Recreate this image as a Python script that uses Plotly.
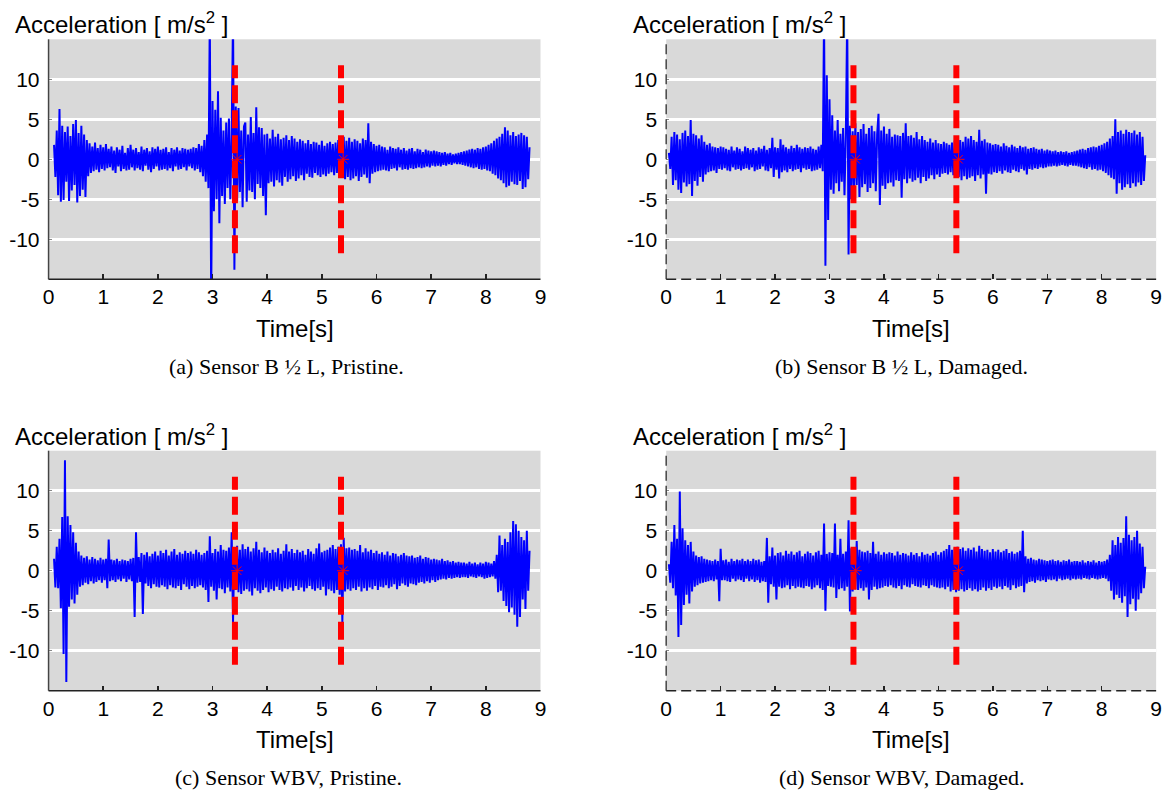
import numpy as np
import plotly.graph_objects as go

# ---------------- data ----------------
# Sampled acceleration traces [m/s^2], one value every DT seconds from T0.
DT = 0.025
T0_A = 0.10
T0_B = 0.05
T0_C = 0.10
T0_D = 0.05

acc_a = [
    1.8, -2.2, 3.6, -4.5, 6.3, -5.3, 4.2, -5.1, 3.4, -2.8, 4.1, -5.2, 2.9, -3.9, 4.4, -3.2, 4.9, -5.4, 3.3, -4.6,
    4.2, -3.8, 3.1, -4.7, 2.4, -2.1, 2.0, -1.7, 1.6, -1.5, 2.1, -1.3, 1.4, -1.6, 1.8, -1.2, 1.5, -1.4, 1.9, -1.1,
    1.3, -1.0, 1.6, -1.4, 1.1, -1.7, 1.5, -0.9, 1.2, -1.5, 1.7, -1.2, 0.8, -1.4, 1.4, -1.3, 1.8, -1.0, 1.2, -1.4,
    1.4, -1.1, 0.9, -1.3, 1.6, -1.5, 1.2, -0.8, 1.4, -1.3, 1.0, -1.6, 1.5, -1.2, 1.3, -0.9, 1.6, -1.4, 1.2, -1.3,
    1.3, -1.2, 1.5, -1.4, 0.9, -1.1, 1.4, -1.5, 1.2, -0.9, 1.5, -1.3, 1.1, -1.2, 1.4, -1.0, 1.3, -1.4, 1.2, -0.9,
    1.3, -1.1, 1.5, -1.4, 1.4, -1.2, 1.9, -1.6, 1.7, -2.1, 2.4, -2.8, 3.1, -3.6, 18.0, -18.0, 7.3, -6.5, 6.2, -5.0,
    8.5, -8.0, 5.2, -4.6, 3.6, -5.6, 4.6, -3.6, 5.1, -5.0, 3.2, 18.0, -13.8, 6.6, -5.2, 6.4, -4.1, 3.6, -6.0, 4.1,
    4.6, -5.3, 3.1, -3.9, 5.3, -4.1, 3.3, -5.0, 6.5, -3.1, 4.0, -3.6, 3.9, -4.6, 3.1, -7.0, 3.2, -3.0, 2.6, -2.8,
    3.7, -3.4, 2.8, -2.6, 3.2, -2.9, 2.5, -3.3, 2.7, -2.2, 3.0, -2.8, 2.4, -2.5, 2.9, -2.1, 2.6, -2.7, 2.2, -2.4,
    2.5, -2.0, 2.3, -2.6, 2.0, -1.8, 2.4, -2.2, 1.9, -2.3, 2.2, -1.7, 2.1, -2.0, 1.8, -2.2, 2.3, -1.9, 1.7, -2.1,
    2.0, -1.8, 2.2, -1.6, 1.9, -2.0, 2.1, -1.7, 2.4, -2.3, 2.6, -2.0, 2.8, -2.5, 2.3, -2.2, 2.7, -2.6, 2.2, -2.4,
    2.5, -2.1, 2.3, -2.7, 2.0, -2.2, 2.6, -1.9, 2.4, -2.3, 4.5, -3.0, 2.2, -1.8, 1.9, -1.6, 1.7, -1.5, 1.8, -1.4,
    1.6, -1.3, 1.5, -1.4, 1.2, -1.5, 1.6, -1.2, 1.4, -1.1, 1.3, -1.4, 1.5, -1.0, 1.2, -1.3, 1.4, -1.2, 1.1, -1.3,
    1.3, -1.1, 1.4, -1.2, 1.0, -1.1, 1.3, -1.0, 1.2, -1.1, 0.9, -1.0, 1.2, -0.9, 1.1, -1.0, 1.0, -0.8, 1.1, -0.9,
    1.0, -0.8, 0.9, -0.9, 0.8, -0.7, 0.9, -0.8, 0.7, -0.6, 0.8, -0.7, 0.6, -0.5, 0.7, -0.6, 0.8, -0.6, 0.9, -0.7,
    1.0, -0.8, 1.1, -0.9, 1.2, -1.0, 1.3, -1.1, 1.2, -1.0, 1.4, -1.2, 1.3, -1.3, 1.5, -1.2, 1.6, -1.4, 1.8, -1.5,
    2.0, -1.8, 2.3, -2.0, 2.6, -2.4, 2.8, -2.6, 3.2, -3.0, 4.0, -3.5, 3.6, -3.3, 3.0, -2.8, 3.4, -3.1, 2.9, -3.2,
    3.1, -2.7, 3.3, -3.7, 3.0, -3.5, 2.8, -2.5, 1.5,
]

acc_b = [
    0.8, -1.2, 2.8, -3.2, 3.4, -2.6, 3.1, -3.8, 2.5, -4.2, 3.3, -2.9, 3.6, -3.4, 2.9, -3.1, 4.9, -4.6, 3.2, -2.7,
    3.0, -3.3, 2.6, -2.2, 3.0, -2.8, 2.2, -1.9, 1.8, -1.6, 2.0, -1.5, 1.6, -1.4, 1.5, -1.7, 1.4, -1.2, 1.6, -1.3,
    1.5, -1.1, 1.3, -1.4, 1.2, -1.5, 1.6, -1.0, 1.1, -1.3, 1.5, -1.2, 1.3, -1.4, 1.0, -1.2, 1.6, -1.1, 1.4, -1.3,
    1.2, -1.0, 1.4, -1.5, 1.1, -1.3, 1.5, -1.2, 1.3, -0.9, 1.7, -1.4, 1.2, -1.5, 1.4, -1.1, 2.7, -2.2, 1.5, -1.3,
    1.4, -2.4, 2.5, -1.6, 1.8, -1.4, 1.5, -1.6, 1.3, -1.2, 1.7, -1.5, 1.4, -1.3, 1.8, -1.2, 1.5, -1.6, 1.3, -1.1,
    1.5, -1.3, 1.4, -1.2, 1.6, -1.5, 1.3, -1.4, 1.2, -1.3, 1.6, -1.1, 1.8, -1.5, 18.0, -13.3, 10.5, -7.6, 7.5, -3.8,
    5.5, -4.3, 3.6, -3.0, 4.9, -4.0, 3.2, -2.8, 3.9, -4.5, 3.0, 18.0, -11.9, 4.2, -5.0, 3.5, -3.9, 4.5, -3.2, 3.4,
    -4.7, 3.8, -3.5, 4.4, -3.1, 3.2, -4.1, 3.9, -3.6, 4.2, -3.0, 3.5, -4.0, 3.1, 5.7, -5.7, 3.6, -3.3, 4.1, -3.7,
    3.2, -3.0, 3.8, -2.9, 2.8, -3.4, 3.1, -2.6, 3.0, -2.7, 2.9, -4.8, 3.3, -2.5, 4.5, -3.0, 2.9, -2.4, 3.0, -2.8,
    2.7, -2.6, 3.4, -2.3, 2.5, -3.0, 2.9, -2.2, 2.4, -2.7, 2.2, -2.4, 2.6, -2.0, 2.1, -2.5, 2.4, -1.9, 2.0, -2.2,
    1.9, -1.8, 2.2, -1.7, 2.0, -1.9, 1.8, -1.6, 2.1, -2.0, 2.3, -1.8, 2.5, -2.2, 2.4, -2.6, 2.2, -2.1, 2.8, -2.5,
    2.6, -2.3, 2.9, -2.1, 2.4, -2.7, 2.2, -2.0, 3.7, -2.4, 2.3, -1.9, 2.5, -4.3, 2.1, -1.8, 2.0, -1.9, 1.8, -1.6,
    1.9, -1.7, 1.8, -1.5, 1.6, -1.8, 2.0, -1.4, 1.7, -1.6, 1.5, -1.7, 1.8, -1.3, 1.6, -1.5, 1.4, -1.6, 1.7, -1.2,
    1.5, -1.4, 1.6, -1.9, 1.3, -1.2, 1.4, -1.3, 1.5, -1.1, 1.3, -1.2, 1.2, -1.0, 1.3, -1.1, 1.1, -1.0, 1.2, -0.9,
    1.1, -0.9, 1.0, -0.8, 1.1, -0.9, 0.9, -0.8, 1.0, -0.7, 0.9, -0.8, 1.0, -0.9, 0.8, -0.7, 0.9, -0.8, 1.0, -0.8,
    1.1, -0.9, 1.2, -1.0, 1.3, -1.1, 1.2, -1.2, 1.4, -1.0, 1.5, -1.3, 1.6, -1.2, 1.5, -1.4, 1.7, -1.3, 1.8, -1.5,
    2.0, -1.7, 2.2, -2.0, 2.6, -2.3, 2.9, -2.5, 5.0, -4.3, 3.4, -3.0, 3.6, -3.8, 3.2, -3.5, 3.7, -3.1, 3.4, -3.6,
    3.3, -3.0, 3.6, -3.4, 3.1, -2.9, 3.4, -3.2, 2.8, -2.7, 0.5,
]

acc_c = [
    1.5, -2.1, 3.0, -2.2, 4.0, -4.7, 6.7, -10.4, 13.8, -13.9, 6.8, -4.5, 5.7, -3.6, 4.8, -4.1, 3.5, -3.0, 2.4, -2.0,
    1.9, -1.8, 1.6, -1.5, 1.8, -1.7, 1.4, -1.3, 1.7, -1.6, 1.5, -1.4, 1.3, -1.2, 1.6, -1.5, 1.4, -1.2, 1.5, -2.2,
    3.9, -1.3, 1.4, -1.2, 1.3, -1.4, 1.5, -1.1, 1.2, -1.3, 1.4, -1.0, 1.3, -1.4, 1.2, -1.1, 1.5, -1.3, 1.6, -5.8,
    4.8, -1.5, 1.7, -1.4, 2.2, -5.4, 2.0, -1.6, 2.3, -1.9, 1.8, -2.2, 2.1, -1.7, 2.4, -2.0, 1.9, -2.1, 2.5, -1.8,
    2.2, -2.0, 2.6, -2.3, 1.9, -1.8, 2.4, -2.1, 2.7, -2.2, 2.0, -1.9, 2.3, -2.4, 2.1, -1.7, 2.5, -2.0, 2.2, -2.3,
    2.4, -1.9, 2.1, -2.2, 2.6, -2.0, 2.3, -1.8, 2.0, -2.1, 2.2, -2.4, 2.5, -3.9, 4.3, -2.0, 2.2, -2.5, 2.7, -3.6,
    2.4, -2.2, 3.2, -2.3, 2.6, -2.8, 2.5, -2.1, 2.9, -2.6, 4.8, -6.4, 2.8, -2.4, 3.1, -2.7, 2.6, -2.9, 3.3, -2.5,
    2.7, -2.3, 3.0, -2.6, 2.4, -3.1, 2.8, -2.2, 3.6, -2.5, 2.6, -2.8, 2.3, -2.4, 2.9, -2.1, 2.5, -2.7, 2.2, -2.3,
    2.6, -2.5, 2.3, -2.0, 2.8, -2.4, 2.1, -2.6, 2.5, -2.2, 3.3, -2.3, 2.4, -2.1, 2.7, -2.5, 2.2, -1.9, 2.6, -2.4,
    2.3, -2.1, 2.5, -2.6, 2.0, -2.2, 2.7, -1.9, 2.4, -2.3, 2.1, -2.5, 2.8, -2.2, 3.4, -2.4, 2.3, -2.0, 2.5, -3.1,
    2.6, -2.3, 2.9, -2.5, 3.2, -2.8, 2.7, -2.4, 3.0, -3.0, 3.3, -6.4, 4.1, -2.6, 2.8, -2.3, 2.9, -2.5, 2.6, -2.2,
    2.7, -2.4, 2.5, -2.0, 3.2, -2.6, 2.3, -2.2, 2.8, -2.5, 2.4, -2.1, 2.6, -2.3, 2.2, -1.9, 2.5, -2.4, 2.1, -2.0,
    2.3, -2.1, 2.0, -1.8, 2.4, -2.2, 1.9, -2.0, 2.2, -1.7, 2.1, -2.3, 1.8, -1.9, 2.0, -1.6, 2.2, -1.8, 1.9, -2.0,
    1.8, -1.6, 1.9, -1.7, 1.6, -1.8, 1.7, -1.5, 1.9, -1.4, 1.5, -1.6, 1.7, -1.3, 1.6, -1.5, 1.4, -1.2, 1.5, -1.4,
    1.4, -1.2, 1.3, -1.1, 1.5, -1.0, 1.2, -1.1, 1.3, -0.9, 1.1, -1.0, 1.2, -0.9, 1.0, -0.8, 1.1, -0.9, 1.0, -0.8,
    1.0, -0.8, 0.9, -0.9, 1.1, -0.7, 0.9, -0.8, 1.0, -0.9, 0.8, -0.7, 1.0, -0.8, 0.9, -1.0, 1.1, -0.9, 1.0, -0.8,
    0.9, -0.7, 1.2, -1.0, 2.0, -2.7, 4.4, -2.5, 3.2, -3.8, 4.0, -4.4, 3.6, -5.2, 4.8, -4.6, 6.2, -5.5, 5.8, -7.0,
    5.0, -5.8, 4.2, -3.6, 3.8, -4.8, 5.0, -2.5, 2.5,
]

acc_d = [
    0.8, -1.5, 3.6, -2.2, 5.7, -3.1, 4.0, -8.3, 9.9, -6.8, 5.3, -4.3, 3.8, -3.0, 3.2, -4.1, 3.6, -2.6, 2.4, -2.0,
    1.9, -1.8, 1.7, -1.6, 1.8, -1.5, 1.5, -1.4, 1.4, -1.3, 1.3, -1.2, 1.2, -1.3, 1.4, -1.1, 1.2, -3.8, 2.75, -1.2,
    1.3, -1.2, 1.4, -1.3, 1.1, -1.4, 1.5, -1.0, 1.2, -1.3, 1.4, -1.1, 1.3, -1.2, 1.5, -1.4, 1.2, -1.0, 1.4, -1.3,
    1.2, -1.1, 1.5, -1.4, 1.3, -1.2, 1.4, -1.5, 1.1, -1.3, 1.2, -1.4, 4.1, -4.0, 1.8, -1.7, 2.9, -2.0, 1.9, -3.6,
    2.2, -2.0, 2.3, -2.2, 1.9, -2.1, 2.5, -1.8, 2.1, -2.3, 2.4, -1.9, 2.0, -2.2, 2.3, -2.0, 2.5, -2.1, 1.8, -2.2,
    2.1, -1.9, 2.4, -2.0, 2.2, -2.3, 1.9, -2.1, 2.3, -1.8, 2.5, -2.2, 2.0, -2.4, 5.9, -5.0, 2.1, -1.9, 2.3, -2.0,
    2.2, -2.1, 5.9, -3.4, 2.0, -2.3, 4.0, -2.2, 2.1, -2.5, 2.4, -2.0, 6.3, -5.1, 2.8, -2.6, 2.5, -2.3, 3.7, -2.4,
    2.6, -2.2, 2.4, -2.5, 2.3, -2.1, 2.5, -3.6, 2.2, -2.4, 3.6, -2.0, 2.1, -2.3, 2.4, -2.2, 2.0, -2.1, 2.3, -1.9,
    2.1, -2.0, 2.3, -1.8, 2.2, -2.1, 1.9, -2.2, 2.4, -1.9, 2.0, -2.3, 2.2, -1.8, 2.1, -2.0, 1.9, -2.1, 2.3, -1.7,
    2.0, -1.9, 2.2, -2.0, 1.8, -2.1, 2.3, -1.8, 2.0, -1.9, 2.1, -2.2, 1.9, -1.8, 2.2, -2.0, 2.4, -2.1, 2.0, -2.2,
    2.3, -2.1, 2.5, -2.3, 2.7, -2.0, 3.2, -2.6, 2.6, -2.4, 2.8, -2.7, 3.0, -2.5, 2.7, -2.3, 2.9, -2.6, 2.5, -2.4,
    2.8, -2.2, 2.6, -2.5, 2.9, -2.3, 2.4, -2.6, 3.1, -2.4, 2.7, -2.1, 2.5, -2.5, 2.6, -2.2, 2.3, -2.4, 2.7, -2.0,
    2.4, -2.2, 2.6, -2.0, 2.3, -2.3, 2.5, -1.9, 2.7, -2.1, 2.2, -2.4, 2.4, -1.8, 2.1, -2.2, 2.3, -2.0, 2.5, -1.9,
    5.0, -2.7, 1.8, -1.6, 1.5, -1.4, 1.6, -1.3, 1.4, -1.5, 1.3, -1.2, 1.5, -1.3, 1.4, -1.2, 1.3, -1.4, 1.2, -1.1,
    1.3, -1.2, 1.4, -1.1, 1.2, -1.3, 1.3, -1.0, 1.1, -1.2, 1.3, -1.1, 1.2, -1.0, 1.4, -1.2, 1.1, -1.0, 1.2, -1.1,
    1.2, -1.0, 1.1, -1.1, 1.3, -0.9, 1.0, -1.0, 1.2, -1.1, 1.1, -0.9, 1.3, -1.0, 1.0, -1.1, 1.2, -1.0, 1.1, -0.9,
    1.2, -1.0, 1.4, -1.3, 2.0, -2.5, 3.8, -3.6, 3.2, -3.0, 4.2, -3.4, 3.5, -4.0, 4.1, -3.2, 6.8, -5.8, 4.5, -4.2,
    3.8, -3.5, 4.2, -5.0, 5.0, -3.6, 3.4, -2.8, 3.0, -2.2, 0.5,
]

# Event instants marked with red dashed lines [s]
events_a = [3.41, 5.35]
events_b = [3.44, 5.33]
events_c = [3.41, 5.35]
events_d = [3.44, 5.33]
EVENT_HALF_HEIGHT = 11.75

captions = [
    "(a) Sensor B \u00bd L, Pristine.",
    "(b) Sensor B \u00bd L, Damaged.",
    "(c) Sensor WBV, Pristine.",
    "(d) Sensor WBV, Damaged.",
]

x_ticks = [0, 1, 2, 3, 4, 5, 6, 7, 8, 9]
x_ticktext = ["0", "1", "2", "3", "4", "5", "6", "7", "8", "9"]
y_ticks = [-10, -5, 0, 5, 10]
y_ticktext = ["-10", "-5", "0", "5", "10"]
X_RANGE = [0, 9]
Y_RANGE = [-15, 15]

# ---------------- layout geometry (pixels) ----------------
W, H = 1175, 794
SANS = "Liberation Sans, Arial, sans-serif"
SERIF = "Liberation Serif, Times New Roman, serif"

def px_x(p):
    return p / W

def px_y(p):
    return 1 - p / H

col_px = [(43, 540), (667, 1162)]
row_px = [(39.3, 279.3), (450.7, 690.7)]  # top, bottom

panels = [
    dict(t0=T0_A, y=acc_a, ev=events_a, col=0, row=0, dashed=False),
    dict(t0=T0_B, y=acc_b, ev=events_b, col=1, row=0, dashed=True),
    dict(t0=T0_C, y=acc_c, ev=events_c, col=0, row=1, dashed=False),
    dict(t0=T0_D, y=acc_d, ev=events_d, col=1, row=1, dashed=True),
]

fig = go.Figure()
shapes = []
annotations = []
title_x = [7, 631]
title_y = [23, 435]
time_y = [328, 739]
cap_x = [[283, 905], [285, 905]]
cap_y = [366, 777]

for i, p in enumerate(panels):
    sfx = "" if i == 0 else str(i + 1)
    xa, ya = "x" + sfx, "y" + sfx
    t = p["t0"] + DT * np.arange(len(p["y"]))
    fig.add_trace(go.Scatter(x=t, y=p["y"], mode="lines",
                             line=dict(color="#0000ff", width=2),
                             xaxis=xa, yaxis=ya, showlegend=False, hoverinfo="skip"))
    for ev in p["ev"]:
        fig.add_trace(go.Scatter(x=[ev, ev], y=[-EVENT_HALF_HEIGHT, EVENT_HALF_HEIGHT], mode="lines",
                                 line=dict(color="#ff0000", width=6, dash="18px,7px"),
                                 xaxis=xa, yaxis=ya, showlegend=False, hoverinfo="skip"))
        fig.add_trace(go.Scatter(x=[ev + 0.04], y=[0], mode="markers",
                                 marker=dict(symbol="asterisk-open", size=10, color="#ff0000",
                                             line=dict(color="#ff0000", width=1)),
                                 xaxis=xa, yaxis=ya, showlegend=False, hoverinfo="skip"))

    x0p, x1p = col_px[p["col"]]
    topp, botp = row_px[p["row"]]
    xdom = [px_x(x0p), px_x(x1p)]
    ydom = [px_y(botp), px_y(topp)]
    axfont = dict(family=SANS, size=21, color="black")
    fig.layout["xaxis" + sfx] = dict(
        domain=xdom, range=X_RANGE, anchor=ya, showgrid=False, zeroline=False, showline=False,
        tickmode="array", tickvals=x_ticks, ticktext=x_ticktext, ticks="inside", ticklen=5,
        tickwidth=1.5, tickcolor="#222222", tickfont=axfont, ticklabelstandoff=3, fixedrange=True)
    fig.layout["yaxis" + sfx] = dict(
        domain=ydom, range=Y_RANGE, anchor=xa, showgrid=True, gridcolor="white", gridwidth=3,
        zeroline=False, showline=False, tickmode="array", tickvals=y_ticks, ticktext=y_ticktext,
        ticks="inside", ticklen=3, tickcolor="#888888", tickfont=axfont, ticklabelstandoff=8,
        fixedrange=True)

    dash = "10px,5px" if p["dashed"] else "solid"
    shapes.append(dict(type="line", xref="paper", yref="paper", x0=xdom[0], x1=xdom[0],
                       y0=ydom[0], y1=ydom[1], line=dict(color="#444444", width=1.5, dash=dash),
                       layer="above"))
    shapes.append(dict(type="line", xref="paper", yref="paper", x0=xdom[0], x1=xdom[1],
                       y0=ydom[0], y1=ydom[0], line=dict(color="#222222", width=1.5, dash=dash),
                       layer="above"))

    annotations.append(dict(text="Acceleration [ m/s<sup>2</sup> ]", xref="paper", yref="paper",
                            x=px_x(title_x[p["col"]]), y=px_y(title_y[p["row"]]),
                            xanchor="left", yanchor="middle", showarrow=False,
                            font=dict(family=SANS, size=24, color="black")))
    annotations.append(dict(text="Time[s]", xref="paper", yref="paper",
                            x=(xdom[0] + xdom[1]) / 2, y=px_y(time_y[p["row"]]),
                            xanchor="center", yanchor="middle", showarrow=False,
                            font=dict(family=SANS, size=24, color="black")))
    annotations.append(dict(text=captions[i], xref="paper", yref="paper",
                            x=px_x(cap_x[p["row"]][p["col"]]), y=px_y(cap_y[p["row"]]),
                            xanchor="center", yanchor="middle", showarrow=False,
                            font=dict(family=SERIF, size=22, color="black")))

fig.update_layout(
    width=W, height=H, autosize=False,
    margin=dict(l=0, r=0, t=0, b=0),
    paper_bgcolor="white", plot_bgcolor="#d9d9d9",
    shapes=shapes, annotations=annotations, showlegend=False,
)

fig.write_html(
    "out.html",
    config={"displayModeBar": False, "staticPlot": True},
    post_script="document.body.style.margin='0';document.body.style.padding='0';"
                "document.documentElement.style.overflow='hidden';",
)
